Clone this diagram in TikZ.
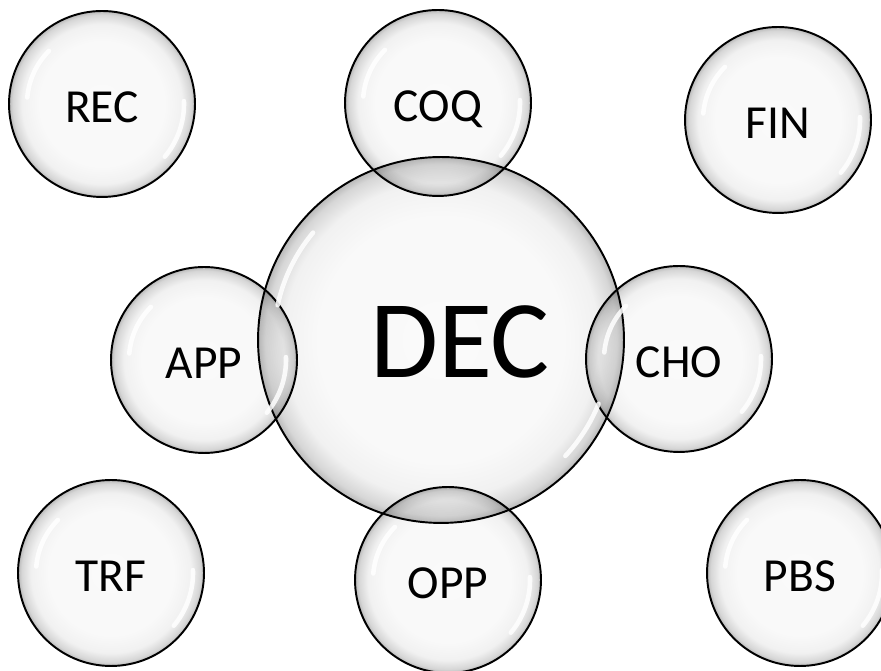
\documentclass[tikz,border=0pt]{standalone}
\usepackage{fontspec}
\setmainfont{Carlito}
\usetikzlibrary{calc}
\pgfdeclareradialshading{bubbleshade}{\pgfpoint{0bp}{0bp}}{color(0bp)=(gray!4); color(17bp)=(gray!5); color(21.5bp)=(gray!11); color(24bp)=(gray!32); color(25bp)=(gray!55); color(50bp)=(gray!55)}

\tikzset{
  bubble/.style={circle, draw=black, line width=1.1pt, shade, shading=bubbleshade,
    minimum size=3.72cm, inner sep=0pt, blend mode=multiply,
    text height=0.74cm, text depth=0pt,
    font=\fontsize{27}{30}\selectfont},
  gloss/.style={white, line width=2.6pt, line cap=round, opacity=0.85},
}

\begin{document}
\begin{tikzpicture}[x=0.02cm, y=0.02cm]
  % page
  \fill[white] (0,0) rectangle (881,671);
  \useasboundingbox (0,0) rectangle (881,671);
  % centre bubble
  \node[bubble, minimum size=7.32cm, text height=1.5cm,
        font=\fontsize{63}{66}\selectfont]
    (dec) at (441,331) {\hspace*{0.76cm}DEC};
  % small bubbles
  \foreach \nm/\x/\y/\txt in {rec/102/567/REC, coq/438/568/COQ, fin/778/551/FIN,
                              app/204/311/APP, cho/679/312/CHO,
                              trf/111/98/TRF, opp/448/91/OPP, pbs/800/98/PBS}{
    \node[bubble] (\nm) at (\x,\y) {\txt};
  }
  % highlights
  \foreach \nm in {rec, coq, fin, app, cho, trf, opp, pbs}{
    \draw[gloss] ($(\nm.center)+(135:75)$) arc[start angle=135, end angle=175, radius=75];
    \draw[gloss] ($(\nm.center)+(-40:82)$) arc[start angle=-40, end angle=2, radius=82];
  }
  \draw[gloss] ($(dec.center)+(140:167)$) arc[start angle=140, end angle=168, radius=167];
  \draw[gloss] ($(dec.center)+(-43:170)$) arc[start angle=-43, end angle=-22, radius=170];
\end{tikzpicture}
\end{document}
